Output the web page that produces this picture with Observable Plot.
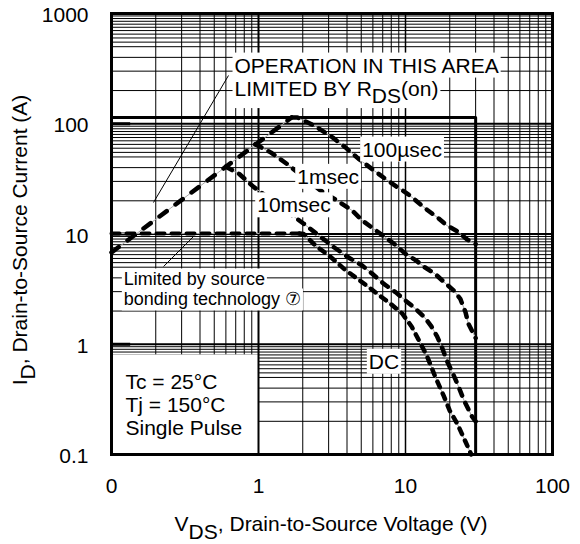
<!DOCTYPE html>
<html><head><meta charset="utf-8">
<script src="https://cdn.jsdelivr.net/npm/d3@7"></script>
<script src="https://cdn.jsdelivr.net/npm/@observablehq/plot@0.6"></script>
<style>body{margin:0;background:#fff;} svg{display:block;}</style>
</head><body><div id="chart"></div>
<script>
// ---- axis ticks ----
const xTicks = [0.1, 1, 10, 100];
const xTickLabels = ["0", "1", "10", "100"];
const yTicks = [0.1, 1, 10, 100, 1000];
const yTickLabels = ["0.1", "1", "10", "100", "1000"];
const gridSteps = [2, 3, 4, 5, 6, 7, 8, 9];
const yHalfSteps = [5.5, 6.5, 7.5, 8.5, 9.5];
const xDecades = [0.1, 1, 10];
const yDecades = [0.1, 1, 10, 100];

// ---- curves (V in volts, I in amps) ----
const rdsV = [0.1, 1.68];
const rdsI = [6.8, 114];
const us100V = [1.68, 1.84, 2.4, 3.2, 3.9, 4.8, 6.1, 7.3, 8.8, 10.5, 14, 16.4, 19.2, 22.5, 26.3, 30];
const us100I = [114, 114, 96, 75, 61, 48, 37.7, 31.6, 26.6, 22.8, 16.6, 14.2, 11.9, 10.6, 8.9, 8.1];
const ms1V = [0.95, 1.21, 1.57, 2.64, 3.43, 4.34, 5.07, 6.09, 7.4, 8.6, 10, 11.7, 13.5, 15.9, 18.3, 21.3, 23.6, 25.6, 26.8, 30];
const ms1I = [65, 55, 43, 24.8, 20.1, 16.3, 13.3, 11.1, 9.2, 7.9, 6.6, 5.8, 5.0, 4.35, 3.66, 3.07, 2.58, 1.95, 1.53, 1.14];
const ms10V = [0.6, 0.74, 0.93, 2.03, 2.57, 3.25, 4.23, 5.07, 5.94, 7.12, 8.55, 10, 11.7, 13.5, 15, 16.4, 17.8, 19.2, 21.3, 23, 25, 28.4, 30];
const ms10I = [40.8, 35, 26.6, 12.4, 9.7, 7.6, 5.96, 5.18, 4.36, 3.53, 2.97, 2.49, 2.1, 1.75, 1.45, 1.18, 0.92, 0.7, 0.52, 0.41, 0.31, 0.22, 0.2];
const dcFlatV = [0.1, 1.9];
const dcFlatI = [10.1, 10.1];
const dcV = [1.9, 2.03, 2.44, 3.09, 3.91, 4.81, 5.63, 6.58, 7.9, 9.5, 11, 12.5, 14, 16, 18.2, 20, 22.5, 25, 28];
const dcI = [10.1, 10.0, 7.87, 6.2, 4.7, 3.85, 3.29, 2.8, 2.33, 1.9, 1.45, 1.05, 0.78, 0.5, 0.34, 0.25, 0.19, 0.14, 0.1];

// ---- limits ----
const soaV = [0.1, 30, 30];
const soaI = [114, 114, 0.1];
const tcBoxV = [0.1, 1];
const tcBoxI = [0.1, 0.8];

// ---- annotations ----
const annotText = ["OPERATION IN THIS AREA", "LIMITED BY R_{DS}(on)", "100µsec", "1msec", "10msec", "DC", "Tc = 25°C", "Tj = 150°C", "Single Pulse"];
const annotV = [0.687, 0.687, 5.07, 1.834, 0.98, 5.63, 0.1245, 0.1245, 0.1245];
const annotI = [335, 207.5, 58, 32.8, 18.1, 0.689, 0.4536, 0.278, 0.1746];
const noteText = ["Limited by source", "bonding technology ⑦"];
const noteV = [0.1213, 0.1213];
const noteI = [3.85, 2.535];
const leaderV1 = [0.625, 0.226];
const leaderI1 = [274, 5.07];
const leaderV2 = [0.193, 0.361];
const leaderI2 = [19.3, 9.49];
const xTitle = "V_{DS}, Drain-to-Source Voltage (V)";
const yTitle = "I_{D}, Drain-to-Source Current (A)";

// ---- build ----
const rows = (V, I) => V.map((v, k) => ({v, i: I[k]}));
const minorX = xDecades.flatMap(d => gridSteps.map(s => d * s));
const minorY = yDecades.flatMap(d => [...gridSteps, ...yHalfSteps].map(s => d * s));
const annots = annotText.map((t, k) => ({t, v: annotV[k], i: annotI[k]}));
const notes = noteText.map((t, k) => ({t, v: noteV[k], i: noteI[k]}));
const leaders = leaderV1.map((v, k) => ({x1: v, y1: leaderI1[k], x2: leaderV2[k], y2: leaderI2[k]}));
const tcBox = [{x1: tcBoxV[0], x2: tcBoxV[1], y1: tcBoxI[0], y2: tcBoxI[1]}];

const curveMarks = [];
for (const [V, I, w, dash] of [
  [rdsV, rdsI, 4.5, "9,11"],
  [us100V, us100I, 4.5, "7,8"],
  [ms1V, ms1I, 4.5, "7,8"],
  [ms10V, ms10I, 4.5, "7,8"],
  [dcFlatV, dcFlatI, 4, "8,7"],
  [dcV, dcI, 4.5, "6,7"]]) {
  curveMarks.push(Plot.line(rows(V, I), {x: "v", y: "i", stroke: "#aaa", strokeWidth: 1}));
  curveMarks.push(Plot.line(rows(V, I), {x: "v", y: "i", stroke: "black", strokeWidth: w, strokeDasharray: dash}));
}

const svg = Plot.plot({
  width: 580, height: 544,
  marginLeft: 111, marginRight: 28, marginTop: 13, marginBottom: 90,
  x: {type: "log", domain: [0.1, 100]},
  y: {type: "log", domain: [0.1, 1000]},
  style: {fontFamily: "'Liberation Sans', Arial, Helvetica, sans-serif", fontSize: "21px", color: "black", background: "white"},
  marks: [
    Plot.ruleX(minorX, {stroke: "black", strokeWidth: 1}),
    Plot.ruleY(minorY, {stroke: "black", strokeWidth: 1}),
    Plot.rect(tcBox, {x1: "x1", x2: "x2", y1: "y1", y2: "y2", fill: "white"}),
    Plot.ruleX([1], {stroke: "black", strokeWidth: 2}),
    Plot.ruleX([10], {stroke: "black", strokeWidth: 1.5}),
    Plot.ruleY([1, 10, 100], {stroke: "black", strokeWidth: 2}),
    Plot.ruleY([1, 10, 100], {x1: 0.1, x2: 0.135, stroke: "black", strokeWidth: 3}),
    Plot.line(rows(soaV, soaI), {x: "v", y: "i", stroke: "black", strokeWidth: 3}),
    Plot.frame({stroke: "black", strokeWidth: 3}),
    ...curveMarks,
    Plot.link(leaders, {x1: "x1", y1: "y1", x2: "x2", y2: "y2", stroke: "black", strokeWidth: 1}),
    Plot.axisX(xTicks, {tickFormat: d => xTickLabels[xTicks.indexOf(d)], tickSize: 0, tickPadding: 24, fontSize: 21, label: null}),
    Plot.axisY(yTicks, {tickFormat: d => yTickLabels[yTicks.indexOf(d)], tickSize: 0, tickPadding: 23, fontSize: 21, dy: 2, label: null}),
    Plot.text(annots, {x: "v", y: "i", text: "t", textAnchor: "start", fontSize: 21, fill: "black"}),
    Plot.text(notes, {x: "v", y: "i", text: "t", textAnchor: "start", fontSize: 18, fill: "black"}),
    Plot.text([xTitle], {text: d => d, frameAnchor: "bottom", textAnchor: "middle", lineAnchor: "middle", dy: 70, dx: -1, fontSize: 21, fill: "black"}),
    Plot.text([yTitle], {text: d => d, frameAnchor: "left", textAnchor: "middle", lineAnchor: "middle", rotate: -90, dx: -91, dy: 6, fontSize: 21, fill: "black"})
  ]
});
document.getElementById("chart").append(svg);

// subscripts and white label boxes
const boxed = new Set([...annotText, ...noteText]);
const NS = "http://www.w3.org/2000/svg";
svg.querySelectorAll("text").forEach(t => {
  const raw = t.textContent;
  const m = raw.match(/^(.*?)_\{(.*?)\}(.*)$/);
  if (m) {
    t.textContent = "";
    t.append(m[1]);
    const s = document.createElementNS(NS, "tspan");
    s.setAttribute("dy", "0.36em"); s.textContent = m[2]; t.append(s);
    const r = document.createElementNS(NS, "tspan");
    r.setAttribute("dy", "-0.36em"); r.textContent = m[3]; t.append(r);
  }
  if (boxed.has(raw)) {
    const bb = t.getBBox();
    const rect = document.createElementNS(NS, "rect");
    rect.setAttribute("x", bb.x - 2); rect.setAttribute("y", bb.y - 1);
    rect.setAttribute("width", bb.width + 4); rect.setAttribute("height", bb.height + 2);
    rect.setAttribute("fill", "white");
    if (t.getAttribute("transform")) rect.setAttribute("transform", t.getAttribute("transform"));
    t.parentNode.insertBefore(rect, t.parentNode.firstChild);
  }
});
</script>
</body></html>
